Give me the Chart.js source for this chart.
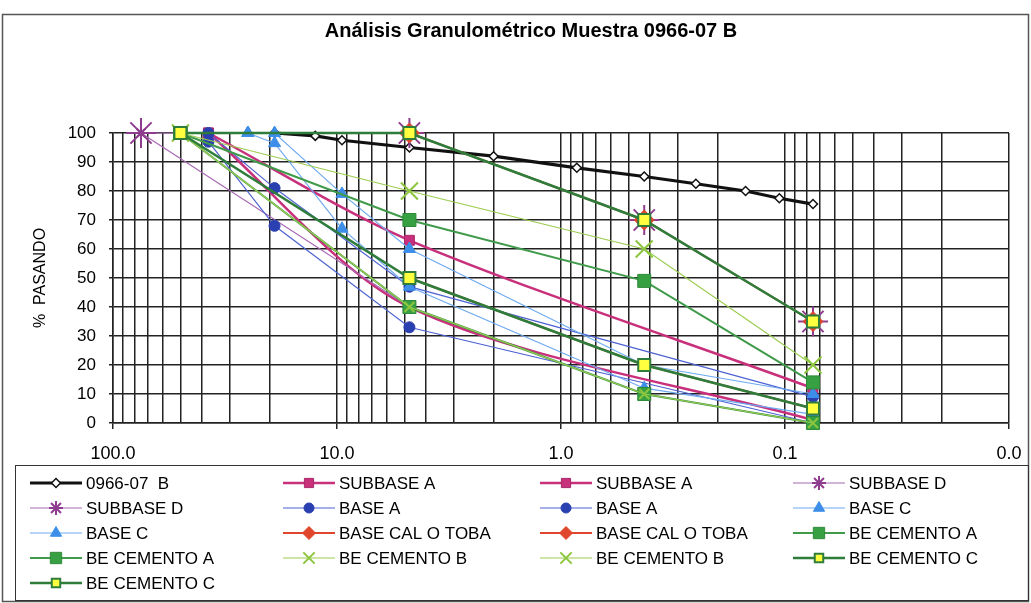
<!DOCTYPE html>
<html lang="es">
<head>
<meta charset="utf-8">
<title>Análisis Granulométrico Muestra 0966-07 B</title>
<script src="https://cdn.jsdelivr.net/npm/chart.js@4.4.1/dist/chart.umd.min.js"></script>
<style>
  html, body { margin: 0; padding: 0; background: #fff; }
  #wrap { position: relative; width: 1031px; height: 603px; }
</style>
</head>
<body>
<div id="wrap"><canvas id="granulometria"></canvas></div>
<script>
// sieve openings (mm) and % passing
const sampleSizes = [19, 12.5, 9.5, 4.75, 2, 0.85, 0.425, 0.25, 0.15, 0.106, 0.075];
const samplePass  = [100, 99, 97.5, 95, 92, 88, 85, 82.5, 80, 77.5, 75.5];

const subbaseASizes = [37.5, 4.75, 0.075];
const subbaseAUpper = [100, 63, 12];
const subbaseALower = [100, 40, 1];

const subbaseDSizes = [75, 4.75, 0.425, 0.075];
const subbaseDUpper = [100, 100, 70, 35];
const subbaseDLower = [100, 40, 10, 0];

const baseASizes = [37.5, 19, 4.75, 0.075];
const baseAUpper = [100, 81, 47, 9];
const baseALower = [97, 68, 33, 0];

const baseCSizes = [25, 19, 9.5, 4.75, 0.425, 0.075];
const baseCUpper = [100, 100, 79, 60, 20, 10];
const baseCLower = [100, 96.5, 67, 47, 12, 3];

const calTobaSizes = [4.75, 0.425, 0.075];
const calTobaUpper = [100, 70, 35];
const calTobaLower = [50, 20, 5];

const cementoSizes = [50, 4.75, 0.425, 0.075];
const cementoAUpper = [100, 70, 49, 14];
const cementoALower = [100, 40, 10, 0];
const cementoBUpper = [100, 80, 60, 20];
const cementoBLower = [100, 40, 10, 0];
const cementoCUpper = [100, 100, 70, 35];
const cementoCLower = [100, 50, 20, 5];

const xMajorTicks = [100, 10, 1, 0.1, 0.01];
const yTicks = [0, 10, 20, 30, 40, 50, 60, 70, 80, 90, 100];

const FONT = "'Liberation Sans', Arial, Helvetica, sans-serif";

// series styles
const styles = {
  sample:   { borderColor: '#111', borderWidth: 3.2, pointStyle: 'rectRot', pointRadius: 4.5, pointBackgroundColor: '#fff', pointBorderColor: '#111', pointBorderWidth: 1.5, legendRadius: 4.5 },
  subbaseA: { borderColor: '#c8307c', borderWidth: 2.5, pointStyle: 'rect', pointRadius: 7, pointBackgroundColor: '#c8307c', pointBorderColor: '#a8286a', pointBorderWidth: 1, tension: 0.3, legendRadius: 6.5 },
  subbaseD: { borderColor: '#a86ab4', borderWidth: 1.2, pointStyle: 'star', pointRadius: 15, pointBackgroundColor: '#8e3c8e', pointBorderColor: '#8e3c8e', pointBorderWidth: 2, legendRadius: 7 },
  baseA:    { borderColor: '#4f63d2', borderWidth: 1.2, pointStyle: 'circle', pointRadius: 5.5, pointBackgroundColor: '#2a3fb0', pointBorderColor: '#2a3fb0', pointBorderWidth: 1, legendRadius: 5 },
  baseC:    { borderColor: '#6eaaf0', borderWidth: 1.2, pointStyle: 'triangle', pointRadius: 7, pointBackgroundColor: '#3d8ee8', pointBorderColor: '#3d8ee8', pointBorderWidth: 1, legendRadius: 6.5 },
  calToba:  { borderColor: '#e0462c', borderWidth: 2, pointStyle: 'rectRot', pointRadius: 10, pointBackgroundColor: '#e0462c', pointBorderColor: '#e0462c', pointBorderWidth: 1, legendRadius: 6.5 },
  cementoA: { borderColor: '#3f9a4a', borderWidth: 2, pointStyle: 'rect', pointRadius: 9.2, pointBackgroundColor: '#36a043', pointBorderColor: '#2f8a3a', pointBorderWidth: 1, legendRadius: 8 },
  cementoB: { borderColor: '#9ccc50', borderWidth: 1.2, pointStyle: 'crossRot', pointRadius: 12, pointBackgroundColor: '#8cc63f', pointBorderColor: '#8cc63f', pointBorderWidth: 2, legendRadius: 8 },
  cementoC: { borderColor: '#2e7d3a', borderWidth: 2.5, pointStyle: 'rect', pointRadius: 8.5, pointBackgroundColor: '#ffff40', pointBorderColor: '#2e7d3a', pointBorderWidth: 2, legendRadius: 6 }
};

function serie(label, sizes, values, style, extra) {
  return Object.assign({
    label: label,
    data: sizes.map((s, i) => ({ x: s, y: values[i] })),
    clip: false,
    fill: false
  }, style, extra || {});
}

const datasets = [
  serie('0966-07  B', sampleSizes, samplePass, styles.sample),
  serie('SUBBASE A', subbaseASizes, subbaseAUpper, styles.subbaseA),
  serie('SUBBASE A', subbaseASizes, subbaseALower, styles.subbaseA),
  serie('SUBBASE D', subbaseDSizes, subbaseDUpper, styles.subbaseD),
  serie('SUBBASE D', subbaseDSizes, subbaseDLower, styles.subbaseD, { pointRadius: 6 }),
  serie('BASE A', baseASizes, baseAUpper, styles.baseA),
  serie('BASE A', baseASizes, baseALower, styles.baseA),
  serie('BASE C', baseCSizes, baseCUpper, styles.baseC),
  serie('BASE C', baseCSizes, baseCLower, styles.baseC),
  serie('BASE CAL O TOBA', calTobaSizes, calTobaUpper, styles.calToba),
  serie('BASE CAL O TOBA', calTobaSizes, calTobaLower, styles.calToba, { pointRadius: 6 }),
  serie('BE CEMENTO A', cementoSizes, cementoAUpper, styles.cementoA),
  serie('BE CEMENTO A', cementoSizes, cementoALower, styles.cementoA),
  serie('BE CEMENTO B', cementoSizes, cementoBUpper, styles.cementoB),
  serie('BE CEMENTO B', cementoSizes, cementoBLower, styles.cementoB, { pointRadius: 7 }),
  serie('BE CEMENTO C', cementoSizes, cementoCUpper, styles.cementoC),
  serie('BE CEMENTO C', cementoSizes, cementoCLower, styles.cementoC)
];
// later series are painted on top, like the spreadsheet did
datasets.forEach((d, i) => { d.order = datasets.length - i; });

// frame, title and the 4-column legend box under the plot
const frameAndLegend = {
  id: 'frameAndLegend',
  beforeDraw(chart) {
    const ctx = chart.ctx;
    ctx.save();
    ctx.fillStyle = '#fff';
    ctx.fillRect(0, 0, chart.width, chart.height);
    ctx.restore();
  },
  afterDraw(chart) {
    const ctx = chart.ctx;
    ctx.save();
    ctx.strokeStyle = '#555';
    ctx.lineWidth = 1.5;
    ctx.strokeRect(2.5, 14.5, 1026, 587);
    ctx.strokeStyle = '#333';
    ctx.lineWidth = 1;
    ctx.strokeRect(15.5, 465.5, 1013, 135);

    ctx.fillStyle = '#000';
    ctx.font = 'bold 20px ' + FONT;
    ctx.textAlign = 'center';
    ctx.textBaseline = 'middle';
    ctx.fillText('Análisis Granulométrico Muestra 0966-07 B', 531, 31);

    const cols = [30, 283, 540, 793];
    ctx.font = '17px ' + FONT;
    ctx.textAlign = 'left';
    chart.data.datasets.forEach((ds, i) => {
      const x = cols[i % 4];
      const y = 483 + Math.floor(i / 4) * 25;
      ctx.strokeStyle = ds.borderColor;
      ctx.lineWidth = ds.borderWidth;
      ctx.beginPath();
      ctx.moveTo(x, y);
      ctx.lineTo(x + 52, y);
      ctx.stroke();
      ctx.fillStyle = ds.pointBackgroundColor;
      ctx.strokeStyle = ds.pointBorderColor;
      ctx.lineWidth = ds.pointBorderWidth;
      Chart.helpers.drawPoint(ctx, {
        pointStyle: ds.pointStyle,
        radius: ds.legendRadius,
        rotation: 0,
        borderWidth: ds.pointBorderWidth
      }, x + 26, y);
      ctx.fillStyle = '#000';
      ctx.fillText(ds.label, x + 56, y + 1);
    });
    ctx.restore();
  }
};

new Chart(document.getElementById('granulometria'), {
  type: 'line',
  data: { datasets: datasets },
  plugins: [frameAndLegend],
  options: {
    responsive: true,
    maintainAspectRatio: false,
    animation: false,
    events: [],
    layout: { padding: { left: 20, right: 22, top: 133, bottom: 140 } },
    plugins: {
      legend: { display: false },
      title: { display: false },
      tooltip: { enabled: false }
    },
    scales: {
      x: {
        type: 'logarithmic',
        min: 0.01,
        max: 100,
        reverse: true,
        afterBuildTicks: function(scale) {
          const ticks = [];
          for (let d = xMajorTicks.length - 1; d > 0; d--) {
            for (let m = 1; m <= 9; m++) {
              ticks.push({ value: +(m * xMajorTicks[d]).toPrecision(6) });
            }
          }
          ticks.push({ value: xMajorTicks[0] });
          scale.ticks = ticks;
        },
        afterFit: function(scale) { scale.height = 40; },
        ticks: {
          autoSkip: false,
          maxRotation: 0,
          padding: 14,
          color: '#000',
          font: { family: FONT, size: 18 },
          callback: function(value) {
            return xMajorTicks.includes(value) ? value.toFixed(1) : '';
          }
        },
        grid: {
          color: '#222',
          lineWidth: 1.5,
          tickLength: 6,
          tickColor: function(c) {
            return c.tick && xMajorTicks.includes(c.tick.value) ? '#222' : 'rgba(0,0,0,0)';
          }
        },
        border: { color: '#222', width: 1.5 }
      },
      y: {
        min: 0,
        max: 100,
        afterBuildTicks: function(scale) {
          scale.ticks = yTicks.map(v => ({ value: v }));
        },
        afterFit: function(scale) { scale.width = 93; },
        title: {
          display: true,
          text: '%  PASANDO',
          color: '#000',
          font: { family: FONT, size: 16 },
          padding: { top: 11, bottom: 0 }
        },
        ticks: {
          padding: 13,
          color: '#000',
          font: { family: FONT, size: 17 }
        },
        grid: { color: '#222', lineWidth: 1.5, tickLength: 4 },
        border: { color: '#222', width: 1.5 }
      }
    }
  }
});
</script>
</body>
</html>
